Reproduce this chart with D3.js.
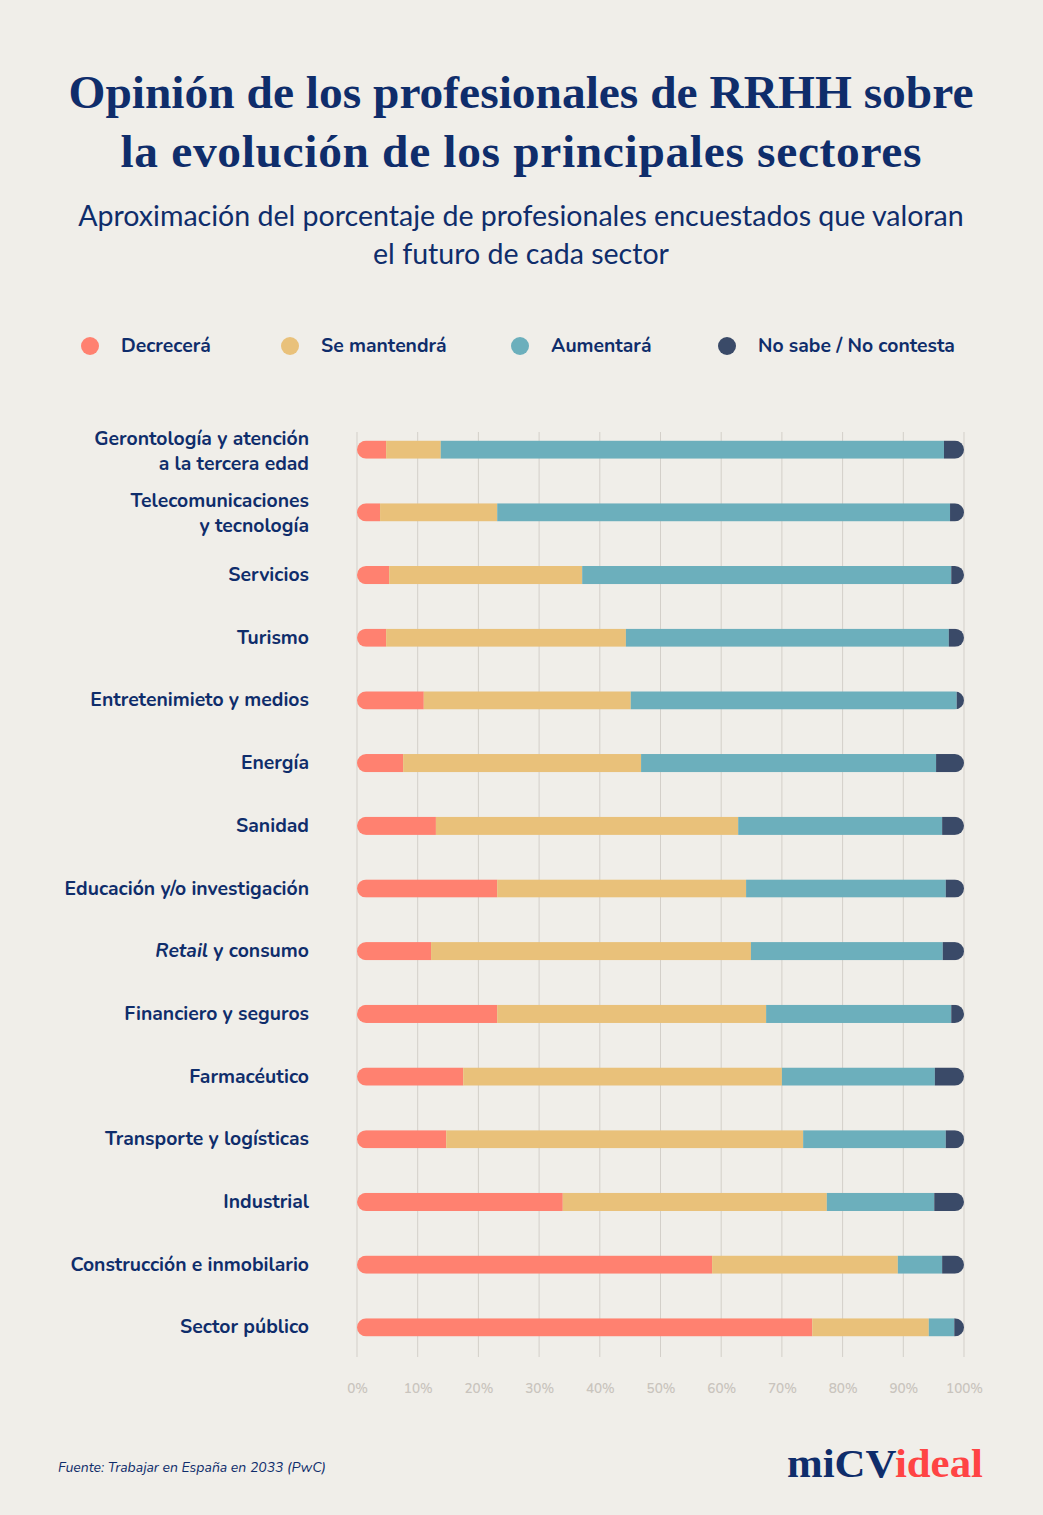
<!DOCTYPE html>
<html><head><meta charset="utf-8">
<script src="https://cdn.jsdelivr.net/npm/d3@7"></script>
<style>
body{margin:0;background:#F0EEE9;}
svg{display:block;}
</style></head>
<body>
<svg id="chart" width="1043" height="1515"></svg>
<script>
const categories = [
  "Gerontología y atención|a la tercera edad",
  "Telecomunicaciones|y tecnología",
  "Servicios",
  "Turismo",
  "Entretenimieto y medios",
  "Energía",
  "Sanidad",
  "Educación y/o investigación",
  "*Retail* y consumo",
  "Financiero y seguros",
  "Farmacéutico",
  "Transporte y logísticas",
  "Industrial",
  "Construcción e inmobilario",
  "Sector público"
];
const decrecera   = [4.8, 3.8, 5.3, 4.8, 11.0, 7.6, 13.0, 23.1, 12.2, 23.1, 17.5, 14.7, 33.9, 58.5, 75.0];
const mantendra   = [9.0, 19.3, 31.8, 39.5, 34.1, 39.2, 49.8, 41.0, 52.7, 44.3, 52.5, 58.8, 43.5, 30.6, 19.2];
const aumentara   = [82.9, 74.6, 60.8, 53.2, 53.7, 48.6, 33.6, 32.9, 31.6, 30.5, 25.2, 23.5, 17.7, 7.3, 4.2];
const noSabe      = [3.3, 2.3, 2.1, 2.5, 1.2, 4.6, 3.6, 3.0, 3.5, 2.1, 4.8, 3.0, 4.9, 3.6, 1.6];
const seriesNames = ["Decrecerá", "Se mantendrá", "Aumentará", "No sabe / No contesta"];
const seriesColors = ["#FF8170", "#E9C17A", "#6CAFBC", "#3A4A68"];
const tickValues = [0,10,20,30,40,50,60,70,80,90,100];

const navy = "#0F2D6B";
const sans = "Nunito, 'Open Sans', Lato, sans-serif";
const svg = d3.select("#chart");
svg.append("rect").attr("width",1043).attr("height",1515).attr("fill","#F0EEE9");

function fit(sel, target){
  const w = sel.node().getComputedTextLength();
  const f = +sel.attr("font-size");
  return f * target / w;
}

// Title
const titleLines = ["Opinión de los profesionales de RRHH sobre","la evolución de los principales sectores"];
const t1 = svg.append("text").attr("x",521).attr("y",108).attr("text-anchor","middle")
  .attr("font-family","Liberation Serif, DejaVu Serif, serif").attr("font-weight","bold")
  .attr("font-size",44).attr("fill",navy).text(titleLines[0]);
const fs = fit(t1, 905);
t1.attr("font-size",fs);
svg.append("text").attr("x",521).attr("y",167).attr("text-anchor","middle")
  .attr("font-family","Liberation Serif, DejaVu Serif, serif").attr("font-weight","bold")
  .attr("font-size",fs).attr("fill",navy)
  .attr("textLength",801).attr("lengthAdjust","spacing").text(titleLines[1]);

// Subtitle
const subLines = ["Aproximación del porcentaje de profesionales encuestados que valoran","el futuro de cada sector"];
const s1 = svg.append("text").attr("x",521).attr("y",226).attr("text-anchor","middle")
  .attr("font-family","Lato, 'Open Sans', sans-serif").attr("font-weight",400)
  .attr("font-size",26).attr("fill",navy).text(subLines[0]);
const sfs = fit(s1, 886);
s1.attr("font-size",sfs);
svg.append("text").attr("x",521).attr("y",264).attr("text-anchor","middle")
  .attr("font-family","Lato, 'Open Sans', sans-serif").attr("font-weight",400)
  .attr("font-size",sfs).attr("fill",navy).text(subLines[1]);

// Legend
const legX = [90, 290, 520, 727];
const leg = svg.append("g");
const probe = leg.append("text").attr("font-family",sans).attr("font-weight",700).attr("font-size",18).text(seriesNames[3]);
const lfs = fit(probe, 197);
probe.remove();
seriesNames.forEach((n,i)=>{
  leg.append("circle").attr("cx",legX[i]).attr("cy",346).attr("r",9).attr("fill",seriesColors[i]);
  leg.append("text").attr("x",legX[i]+31).attr("y",352).attr("font-family",sans)
    .attr("font-weight",700).attr("font-size",lfs).attr("fill",navy).text(n);
});

// Scales
const x = d3.scaleLinear().domain([0,100]).range([357,964]);
const y = d3.scaleBand().domain(d3.range(categories.length)).range([418,1359]).paddingInner(0.71).paddingOuter(0.36);
const bh = y.bandwidth();

// Grid
const grid = svg.append("g");
grid.selectAll("line").data(tickValues).join("line")
  .attr("x1",d=>x(d)).attr("x2",d=>x(d)).attr("y1",432).attr("y2",1357)
  .attr("stroke","#D3CFC9").attr("stroke-width",1);

// Axis
const axis = d3.axisBottom(x).tickValues(tickValues).tickFormat(d=>d+"%").tickSize(0).tickPadding(0);
const ax = svg.append("g").attr("transform","translate(0,1388)").call(axis);
ax.select(".domain").remove();
ax.selectAll("text").attr("fill","#C9C4BD").attr("font-size",13.5).attr("font-weight",600)
  .attr("font-family",sans).attr("dy","0.35em");

// Bars
const stackData = categories.map((c,i)=>({i, v:[decrecera[i],mantendra[i],aumentara[i],noSabe[i]]}));
const defs = svg.append("defs");
const rows = svg.append("g");
stackData.forEach(d=>{
  const total = d3.sum(d.v);
  const cy = y(d.i);
  defs.append("clipPath").attr("id","clip"+d.i).append("rect")
    .attr("x",x(0)).attr("y",cy).attr("width",x(100)-x(0)).attr("height",bh).attr("rx",bh/2).attr("ry",bh/2);
  const g = rows.append("g").attr("clip-path",`url(#clip${d.i})`);
  let acc = 0;
  d.v.forEach((v,k)=>{
    const a = acc/total*100, b = (acc+v)/total*100;
    g.append("rect").attr("x",x(a)).attr("y",cy).attr("width",x(b)-x(a)).attr("height",bh).attr("fill",seriesColors[k]);
    acc += v;
  });
});

// Category labels
const lab = svg.append("g");
const probe2 = lab.append("text").attr("font-family",sans).attr("font-weight",700).attr("font-size",17.5).text("Gerontología y atención");
const cfs = fit(probe2, 215);
probe2.remove();
categories.forEach((c,i)=>{
  const cy = y(i)+bh/2;
  const lines = c.split("|");
  const t = lab.append("text").attr("x",309).attr("text-anchor","end")
    .attr("font-family",sans).attr("font-weight",700)
    .attr("font-size",cfs).attr("fill",navy);
  lines.forEach((ln,j)=>{
    const yy = lines.length===1 ? cy+6 : cy - 5 + j*25;
    const ts = t.append("tspan").attr("x",309).attr("y",yy);
    const parts = ln.split("*");
    parts.forEach((p,k)=>{
      if(!p) return;
      const s = ts.append("tspan").text(p);
      if(k%2===1) s.attr("font-style","italic");
    });
  });
});

// Footer
const foot = svg.append("text").attr("x",58).attr("y",1472).attr("font-family",sans)
  .attr("font-style","italic").attr("font-size",12.5).attr("fill",navy).text("Fuente: Trabajar en España en 2033 (PwC)");
foot.attr("font-size", Math.min(14, fit(foot, 269)));
const logo = svg.append("text").attr("x",983).attr("y",1477).attr("text-anchor","end")
  .attr("font-family","Liberation Serif, DejaVu Serif, serif").attr("font-weight","bold").attr("font-size",41)
  .attr("textLength",196).attr("lengthAdjust","spacingAndGlyphs");
logo.append("tspan").attr("fill",navy).text("miCV");
logo.append("tspan").attr("fill","#FF4444").text("ideal");
</script>
</body></html>
